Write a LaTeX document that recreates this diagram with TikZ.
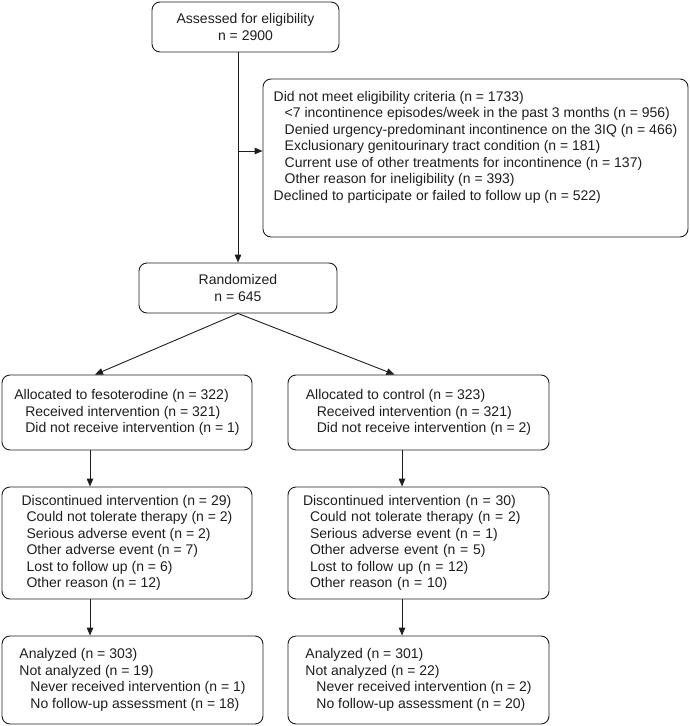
\documentclass[tikz,border=0pt]{standalone}
\usepackage{fontspec}
\setmainfont{Liberation Sans}
\usepackage{xcolor}
\usepackage{tikz}
\usetikzlibrary{arrows.meta,positioning}
\definecolor{FlowInk}{HTML}{1E1E1E}

\begin{document}
\begin{tikzpicture}[x=1pt,y=-1pt,
  font=\fontsize{14}{16.5}\selectfont,
  flowbox/.style={draw=FlowInk,line width=0.9pt,rounded corners=8pt,inner sep=0pt,align=left,text=FlowInk},
  flowarrow/.style={-{Triangle[length=8pt,width=6.5pt]},FlowInk,line width=0.9pt}]
\useasboundingbox (0,0) rectangle (689,726);
% screening
\node[flowbox,align=center,minimum width=187,minimum height=50] (assess) at (245.5,27) {Assessed for eligibility\\n = 2900};
\node[flowbox,minimum width=425,minimum height=158] (excl) at (475.5,158) {Did not meet eligibility criteria (n = 1733)\\
  \hspace*{11pt}<7 incontinence episodes/week in the past 3 months (n = 956)\\
  \hspace*{11pt}Denied urgency-predominant incontinence on the 3IQ (n = 466)\\
  \hspace*{11pt}Exclusionary genitourinary tract condition (n = 181)\\
  \hspace*{11pt}Current use of other treatments for incontinence (n = 137)\\
  \hspace*{11pt}Other reason for ineligibility (n = 393)\\
  Declined to participate or failed to follow up (n = 522)\\[8pt]\mbox{}};
\node[flowbox,align=center,minimum width=198,minimum height=50] (rand) at (238,288) {Randomized\\n = 645};
% allocation
\node[flowbox,minimum width=250,minimum height=75] (allocL) at (127,412.5) {Allocated to fesoterodine (n = 322)\\
  \hspace*{11pt}Received intervention (n = 321)\\
  \hspace*{11pt}Did not receive intervention (n = 1)};
\node[flowbox,minimum width=261,minimum height=75] (allocR) at (418.5,412.5) {Allocated to control (n = 323)\\
  \hspace*{11pt}Received intervention (n = 321)\\
  \hspace*{11pt}Did not receive intervention (n = 2)};
% follow up
\node[flowbox,minimum width=250,minimum height=112] (discL) at (127,543) {Discontinued intervention (n = 29)\\
  \hspace*{5pt}Could not tolerate therapy (n = 2)\\
  \hspace*{5pt}Serious adverse event (n = 2)\\
  \hspace*{5pt}Other adverse event (n = 7)\\
  \hspace*{5pt}Lost to follow up (n = 6)\\
  \hspace*{5pt}Other reason (n = 12)};
\node[flowbox,minimum width=261,minimum height=112,text width=231pt,inner xsep=15pt] (discR) at (418.5,543) {Discontinued intervention (n = 30)\\
  \hspace*{7pt}Could not tolerate therapy (n = 2)\\
  \hspace*{7pt}Serious adverse event (n = 1)\\
  \hspace*{7pt}Other adverse event (n = 5)\\
  \hspace*{7pt}Lost to follow up (n = 12)\\
  \hspace*{7pt}Other reason (n = 10)};
% analysis
\node[flowbox,minimum width=261,minimum height=88] (analL) at (132.5,680) {Analyzed (n = 303)\\
  Not analyzed (n = 19)\\
  \hspace*{11pt}Never received intervention (n = 1)\\
  \hspace*{11pt}No follow-up assessment (n = 18)};
\node[flowbox,minimum width=261,minimum height=88] (analR) at (418.5,680) {Analyzed (n = 301)\\
  Not analyzed (n = 22)\\
  \hspace*{11pt}Never received intervention (n = 2)\\
  \hspace*{11pt}No follow-up assessment (n = 20)};
% connectors
\coordinate (split) at (238,151);
\coordinate (colL) at (90,0);
\coordinate (colR) at (402,0);
\draw[flowarrow] (assess.south -| rand.north) -- (rand.north);
\draw[flowarrow] (split) -- (split -| excl.west);
\draw[flowarrow] (rand.south) -- ([xshift=-32pt]allocL.north);
\draw[flowarrow] (rand.south) -- ([xshift=-24pt]allocR.north);
\draw[flowarrow] (allocL.south -| colL) -- (discL.north -| colL);
\draw[flowarrow] (allocR.south -| colR) -- (discR.north -| colR);
\draw[flowarrow] (discL.south -| colL) -- (analL.north -| colL);
\draw[flowarrow] (discR.south -| colR) -- (analR.north -| colR);
\end{tikzpicture}
\end{document}
